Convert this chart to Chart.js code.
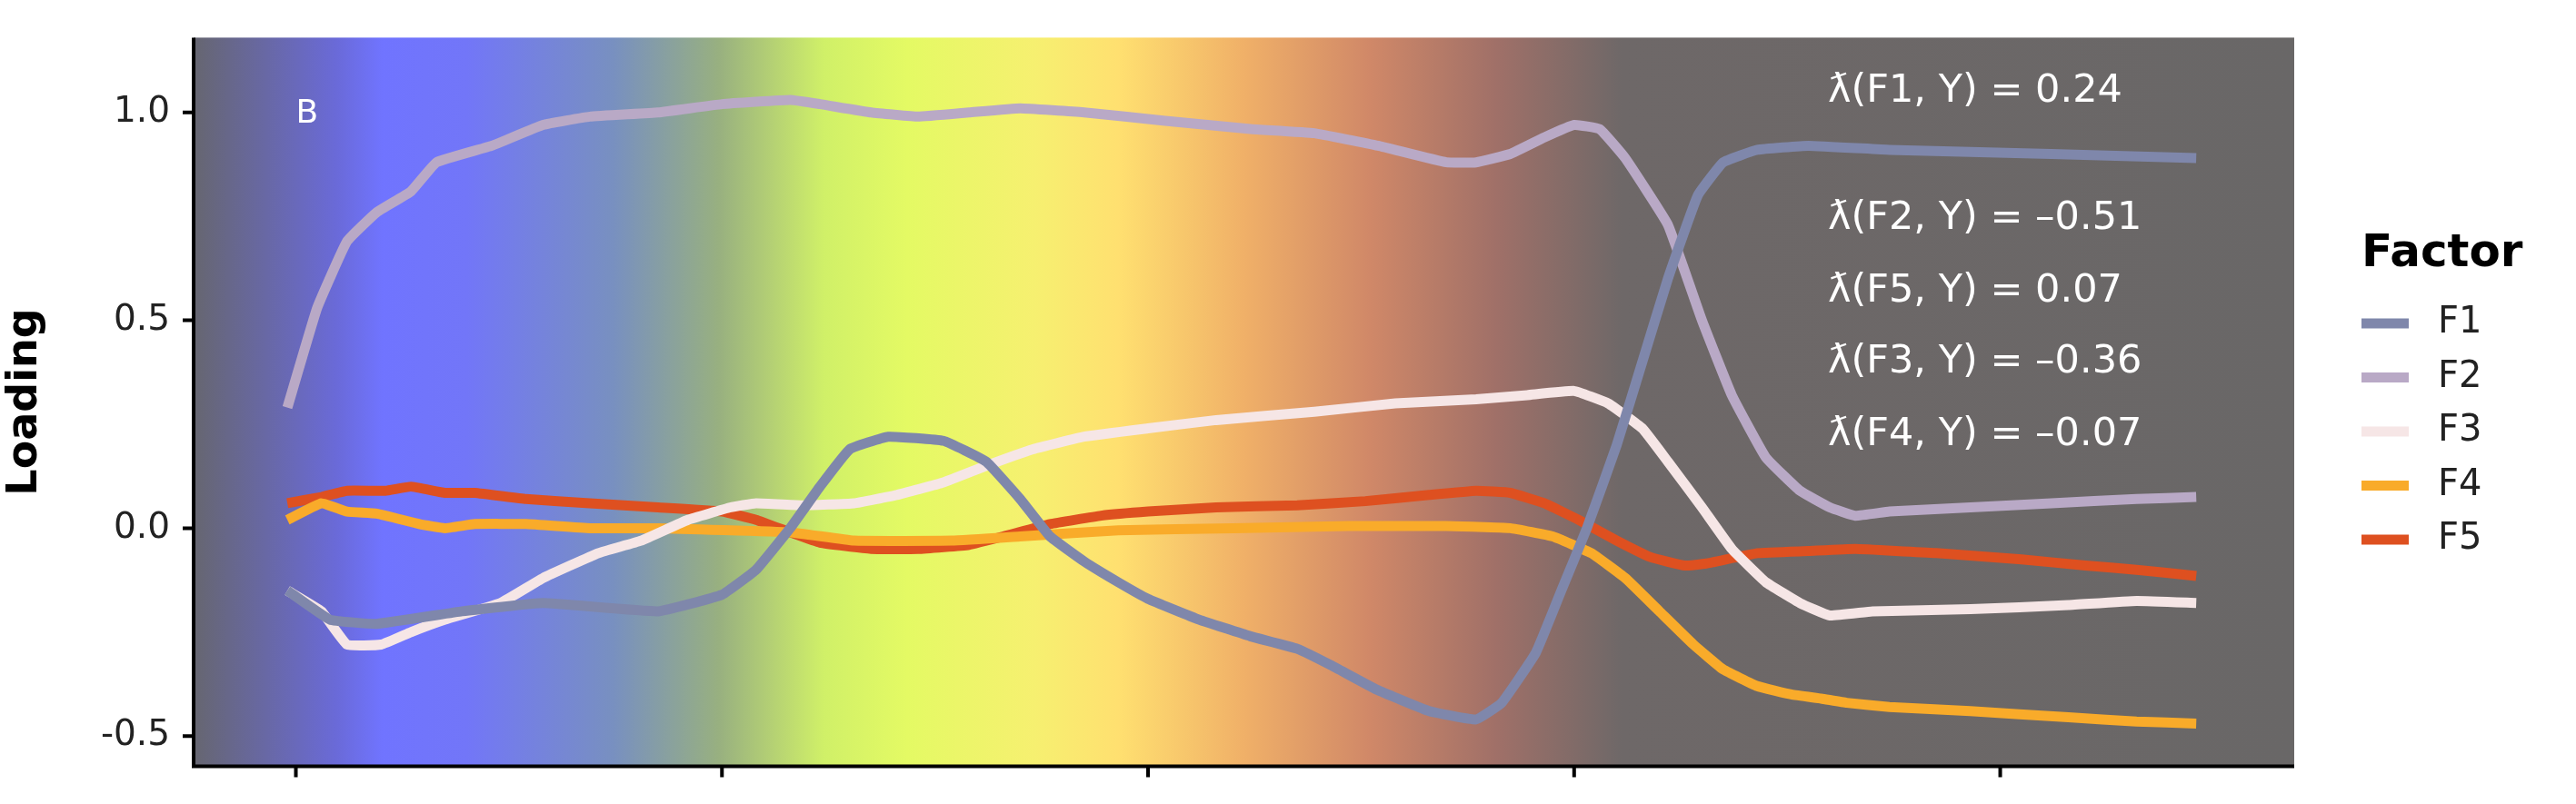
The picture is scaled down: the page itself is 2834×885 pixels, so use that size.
<!DOCTYPE html>
<html><head><meta charset="utf-8">
<script src="https://cdn.jsdelivr.net/npm/chart.js@4/dist/chart.umd.min.js"></script>
<style>html,body{margin:0;padding:0;background:#fff}canvas{display:block}</style>
</head><body>
<canvas id="c" width="2834" height="885"></canvas>
<script>
// wavelength / loading readings
const F1 = [[398,-0.15],[408,-0.22],[419,-0.23],[439,-0.2],[458,-0.18],[485,-0.2],[500,-0.16],[508,-0.1],[516,0.0],[523,0.1],[530,0.19],[539,0.22],[552,0.21],[562,0.16],[570,0.07],[577,-0.02],[585,-0.08],[593,-0.13],[600,-0.17],[612,-0.22],[624,-0.26],[635,-0.29],[643,-0.33],[654,-0.39],[666,-0.44],[677,-0.46],[683,-0.42],[691,-0.3],[697,-0.15],[703,0.0],[710,0.2],[716,0.4],[722,0.6],[729,0.8],[735,0.88],[743,0.91],[755,0.92],[774,0.91],[812,0.9],[846,0.89]];
const F2 = [[398,0.29],[405,0.53],[412,0.69],[419,0.76],[427,0.81],[433,0.88],[446,0.92],[458,0.97],[469,0.99],[485,1.0],[500,1.02],[516,1.03],[523,1.02],[535,1.0],[546,0.99],[558,1.0],[570,1.01],[585,1.0],[604,0.98],[624,0.96],[639,0.95],[654,0.92],[670,0.88],[677,0.88],[685,0.9],[693,0.94],[700,0.97],[706,0.96],[712,0.89],[722,0.73],[730,0.5],[737,0.32],[745,0.17],[753,0.09],[760,0.05],[766,0.03],[774,0.04],[793,0.05],[812,0.06],[832,0.07],[846,0.075]];
const F3 = [[398,-0.15],[406,-0.2],[412,-0.28],[420,-0.28],[427,-0.25],[435,-0.22],[448,-0.18],[458,-0.12],[471,-0.06],[481,-0.03],[492,0.02],[502,0.05],[508,0.06],[519,0.055],[531,0.06],[541,0.08],[552,0.11],[562,0.15],[573,0.19],[585,0.22],[600,0.24],[616,0.26],[639,0.28],[658,0.3],[677,0.31],[689,0.32],[700,0.33],[708,0.3],[716,0.24],[722,0.16],[730,0.05],[737,-0.05],[745,-0.13],[753,-0.18],[760,-0.21],[770,-0.2],[793,-0.195],[816,-0.185],[832,-0.175],[846,-0.18]];
const F4 = [[398,0.02],[406,0.06],[412,0.04],[419,0.035],[429,0.01],[435,0.0],[442,0.01],[454,0.01],[469,0.0],[485,0.0],[516,-0.01],[531,-0.03],[554,-0.03],[570,-0.02],[593,-0.005],[620,0.0],[647,0.005],[670,0.005],[685,0.0],[695,-0.02],[704,-0.06],[712,-0.12],[720,-0.2],[728,-0.28],[735,-0.34],[743,-0.38],[751,-0.4],[758,-0.41],[764,-0.42],[774,-0.43],[793,-0.44],[816,-0.455],[832,-0.465],[846,-0.47]];
const F5 = [[398,0.06],[406,0.075],[412,0.09],[421,0.09],[427,0.1],[435,0.085],[442,0.085],[454,0.07],[469,0.06],[485,0.05],[500,0.04],[508,0.02],[516,-0.01],[523,-0.035],[535,-0.05],[546,-0.05],[558,-0.04],[566,-0.02],[577,0.01],[589,0.03],[600,0.04],[616,0.05],[635,0.055],[651,0.065],[666,0.08],[677,0.09],[685,0.085],[693,0.06],[701,0.02],[710,-0.03],[718,-0.07],[726,-0.09],[731,-0.085],[743,-0.06],[755,-0.055],[766,-0.05],[785,-0.06],[805,-0.075],[820,-0.09],[832,-0.1],[846,-0.115]];

const factorNames = ['F1', 'F2', 'F3', 'F4', 'F5'];
const factorColors = ['#7f87ab', '#b9a9c6', '#f6e6e6', '#f9ab2a', '#de5020'];
const yTicks = [-0.5, 0, 0.5, 1.0];
const xTicks = [400, 500, 600, 700, 800];
const annotations = ['ƛ(F1, Y) = 0.24', 'ƛ(F2, Y) = –0.51', 'ƛ(F5, Y) = 0.07', 'ƛ(F3, Y) = –0.36', 'ƛ(F4, Y) = –0.07'];
const annotationY = [1.05, 0.745, 0.57, 0.40, 0.225];

const series = [F1, F2, F3, F4, F5];

const background = {
    id: 'background',
    beforeDraw(chart) {
        const {ctx, chartArea: a} = chart;
        const g = ctx.createLinearGradient(a.left, 0, a.right, 0);
        const stops = [[0, '#666670'], [0.068, '#6a6ad8'], [0.09, '#7074ff'], [0.13, '#7276f8'],
            [0.2, '#7890c0'], [0.25, '#98b080'], [0.3, '#d0f068'], [0.34, '#e4fa64'],
            [0.4, '#f6f070'], [0.44, '#ffe070'], [0.5, '#f0b068'], [0.56, '#d08868'],
            [0.62, '#a07068'], [0.68, '#6e6868'], [1, '#696767']];
        stops.forEach(s => g.addColorStop(s[0], s[1]));
        ctx.save();
        ctx.fillStyle = g;
        ctx.fillRect(a.left, a.top, a.right - a.left, a.bottom - a.top);
        ctx.restore();
    },
    afterDraw(chart) {
        const {ctx, chartArea: a, scales} = chart;
        ctx.save();
        // axis lines and tick marks
        ctx.strokeStyle = '#000';
        ctx.lineWidth = 4;
        ctx.beginPath();
        ctx.moveTo(a.left, a.top);
        ctx.lineTo(a.left, a.bottom);
        ctx.lineTo(a.right, a.bottom);
        xTicks.forEach(v => {
            const x = scales.x.getPixelForValue(v);
            ctx.moveTo(x, a.bottom);
            ctx.lineTo(x, a.bottom + 12);
        });
        yTicks.forEach(v => {
            const y = scales.y.getPixelForValue(v);
            ctx.moveTo(a.left, y);
            ctx.lineTo(a.left - 12, y);
        });
        ctx.stroke();
        // annotations
        ctx.fillStyle = '#fff';
        ctx.font = '43px "DejaVu Sans"';
        ctx.textBaseline = 'middle';
        annotations.forEach((t, i) => {
            ctx.fillText(t, scales.x.getPixelForValue(760) - 2, scales.y.getPixelForValue(annotationY[i]));
        });
        ctx.font = '36px "DejaVu Sans"';
        ctx.fillText('B', scales.x.getPixelForValue(400), scales.y.getPixelForValue(0.995));
        // legend
        const lx = 2598;
        ctx.fillStyle = '#000';
        ctx.font = 'bold 50px "DejaVu Sans"';
        ctx.fillText('Factor', lx, 280);
        ctx.font = '40px "DejaVu Sans"';
        factorNames.forEach((n, i) => {
            const y = 356 + i * 59.5;
            ctx.strokeStyle = factorColors[i];
            ctx.lineWidth = 11;
            ctx.beginPath();
            ctx.moveTo(lx, y);
            ctx.lineTo(lx + 52, y);
            ctx.stroke();
            ctx.fillStyle = '#222';
            ctx.fillText(n, lx + 84, y);
        });
        ctx.restore();
    }
};

new Chart(document.getElementById('c'), {
    type: 'line',
    data: {
        datasets: factorNames.map((name, i) => ({
            label: name,
            data: series[i].map(p => ({x: p[0], y: p[1]})),
            borderColor: factorColors[i],
            borderWidth: 11,
            pointRadius: 0,
            tension: 0.1,
            fill: false
        }))
    },
    options: {
        responsive: false,
        animation: false,
        devicePixelRatio: 1,
        layout: {padding: {left: 0, right: 310, top: 22, bottom: 0}},
        plugins: {legend: {display: false}, tooltip: {enabled: false}},
        scales: {
            x: {
                type: 'linear', min: 376, max: 869,
                afterBuildTicks: s => { s.ticks = xTicks.map(v => ({value: v})); },
                afterFit: s => { s.height = 36; },
                grid: {display: false},
                border: {display: false},
                ticks: {display: false}
            },
            y: {
                min: -0.573, max: 1.18,
                afterBuildTicks: s => { s.ticks = yTicks.map(v => ({value: v})); },
                afterFit: s => { s.width = 213; },
                grid: {display: false},
                border: {display: false},
                ticks: {
                    color: '#222', padding: 18,
                    font: {family: 'DejaVu Sans', size: 39},
                    callback: v => v === 0 ? '0.0' : (v === -0.5 ? '-0.5' : v.toFixed(1))
                },
                title: {display: true, text: 'Loading', color: '#000', font: {family: 'DejaVu Sans', size: 46, weight: 'bold'}, padding: {top: 0, bottom: 6}}
            }
        }
    },
    plugins: [background]
});
</script>
</body></html>
